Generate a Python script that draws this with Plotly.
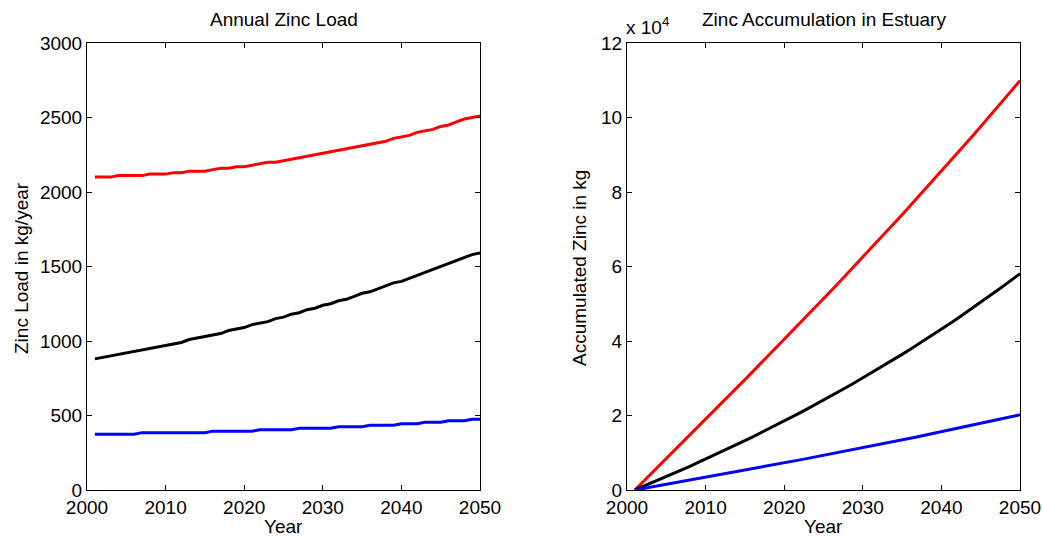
import plotly.graph_objects as go

years = list(range(2001, 2051))

load_red = [2100, 2100, 2100, 2110, 2110, 2110, 2110, 2120, 2120, 2120,
            2130, 2130, 2140, 2140, 2140, 2150, 2160, 2160, 2170, 2170,
            2180, 2190, 2200, 2200, 2210, 2220, 2230, 2240, 2250, 2260,
            2270, 2280, 2290, 2300, 2310, 2320, 2330, 2340, 2360, 2370,
            2380, 2400, 2410, 2420, 2440, 2450, 2470, 2490, 2500, 2510]
load_black = [880, 890, 900, 910, 920, 930, 940, 950, 960, 970,
              980, 990, 1010, 1020, 1030, 1040, 1050, 1070, 1080, 1090,
              1110, 1120, 1130, 1150, 1160, 1180, 1190, 1210, 1220, 1240,
              1250, 1270, 1280, 1300, 1320, 1330, 1350, 1370, 1390, 1400,
              1420, 1440, 1460, 1480, 1500, 1520, 1540, 1560, 1580, 1590]
load_blue = [375, 375, 375, 375, 375, 375, 385, 385, 385, 385,
             385, 385, 385, 385, 385, 395, 395, 395, 395, 395,
             395, 405, 405, 405, 405, 405, 415, 415, 415, 415,
             415, 425, 425, 425, 425, 435, 435, 435, 435, 445,
             445, 445, 455, 455, 455, 465, 465, 465, 475, 475]

acc_red = [0, 2100, 4200, 6300, 8410, 10520, 12630, 14740, 16860, 18980,
           21100, 23230, 25360, 27500, 29640, 31780, 33930, 36090, 38250, 40420,
           42590, 44770, 46960, 49160, 51360, 53570, 55790, 58020, 60260, 62510,
           64770, 67040, 69320, 71610, 73910, 76220, 78540, 80870, 83210, 85570,
           87940, 90320, 92720, 95130, 97550, 99990, 102440, 104910, 107400, 109900]
acc_black = [0, 880, 1770, 2670, 3580, 4500, 5430, 6370, 7320, 8280,
             9250, 10230, 11220, 12230, 13250, 14280, 15320, 16370, 17440, 18520,
             19610, 20720, 21840, 22970, 24120, 25280, 26460, 27650, 28860, 30080,
             31320, 32570, 33840, 35120, 36420, 37740, 39070, 40420, 41790, 43180,
             44580, 46000, 47440, 48900, 50380, 51880, 53400, 54940, 56500, 58080]
acc_blue = [0, 375, 750, 1125, 1500, 1875, 2250, 2635, 3020, 3405,
            3790, 4175, 4560, 4945, 5330, 5715, 6110, 6505, 6900, 7295,
            7690, 8085, 8490, 8895, 9300, 9705, 10110, 10525, 10940, 11355,
            11770, 12185, 12610, 13035, 13460, 13885, 14320, 14755, 15190, 15625,
            16070, 16515, 16960, 17415, 17870, 18325, 18790, 19255, 19720, 20195]

x_ticks = [2000, 2010, 2020, 2030, 2040, 2050]
left_y_ticks = [0, 500, 1000, 1500, 2000, 2500, 3000]
right_y_ticks = [0, 20000, 40000, 60000, 80000, 100000, 120000]
right_y_ticktext = ["0", "2", "4", "6", "8", "10", "12"]

FONT = "Liberation Sans, Arial, sans-serif"
W, H = 1043, 537
ML, MR, MT, MB = 87, 23, 43, 47
PW, PH = W - ML - MR, H - MT - MB


def px(xp):
    return (xp - ML) / PW


def py(yp):
    return (H - MB - yp) / PH


fig = go.Figure()
lw = 3
for ys, c in [(load_red, "#ff0000"), (load_black, "#000000"), (load_blue, "#0000ff")]:
    fig.add_trace(go.Scatter(x=years, y=ys, mode="lines", line=dict(color=c, width=lw),
                             xaxis="x", yaxis="y", showlegend=False))
for ys, c in [(acc_red, "#ff0000"), (acc_black, "#000000"), (acc_blue, "#0000ff")]:
    fig.add_trace(go.Scatter(x=years, y=ys, mode="lines", line=dict(color=c, width=lw),
                             xaxis="x2", yaxis="y2", showlegend=False))

axcommon = dict(showline=True, linecolor="black", linewidth=1, mirror="allticks",
                ticks="inside", ticklen=5, tickcolor="black", showgrid=False,
                zeroline=False, automargin=False,
                tickfont=dict(family=FONT, size=19, color="black"))

fig.update_layout(
    width=W, height=H, margin=dict(l=ML, r=MR, t=MT, b=MB, pad=0, autoexpand=False),
    paper_bgcolor="white", plot_bgcolor="white",
    xaxis=dict(domain=[0, px(480)], range=[2000, 2050], tickvals=x_ticks,
               anchor="y", **axcommon),
    yaxis=dict(domain=[0, 1], range=[0, 3000], tickvals=left_y_ticks,
               anchor="x", **axcommon),
    xaxis2=dict(domain=[px(627), 1], range=[2000, 2050], tickvals=x_ticks,
                anchor="y2", **axcommon),
    yaxis2=dict(domain=[0, 1], range=[0, 120000], tickvals=right_y_ticks,
                ticktext=right_y_ticktext, anchor="x2", **axcommon),
)

tf = dict(family=FONT, size=19, color="black")
ann = [
    dict(text="Annual Zinc Load", x=px(283.5), y=py(20)),
    dict(text="Zinc Load in kg/year", x=px(21), y=py(268), textangle=-90),
    dict(text="Year", x=px(283.5), y=py(526)),
    dict(text="Zinc Accumulation in Estuary", x=px(823.5), y=py(20)),
    dict(text="Accumulated Zinc in kg", x=px(579), y=py(268), textangle=-90),
    dict(text="Year", x=px(823.5), y=py(526)),
]
for a in ann:
    fig.add_annotation(xref="paper", yref="paper", showarrow=False, font=tf,
                       xanchor="center", yanchor="middle", **a)
fig.add_annotation(xref="paper", yref="paper", showarrow=False, font=tf,
                   text="x 10<sup>4</sup>", x=px(624), y=py(26),
                   xanchor="left", yanchor="middle")

fig.write_html("out.html")
